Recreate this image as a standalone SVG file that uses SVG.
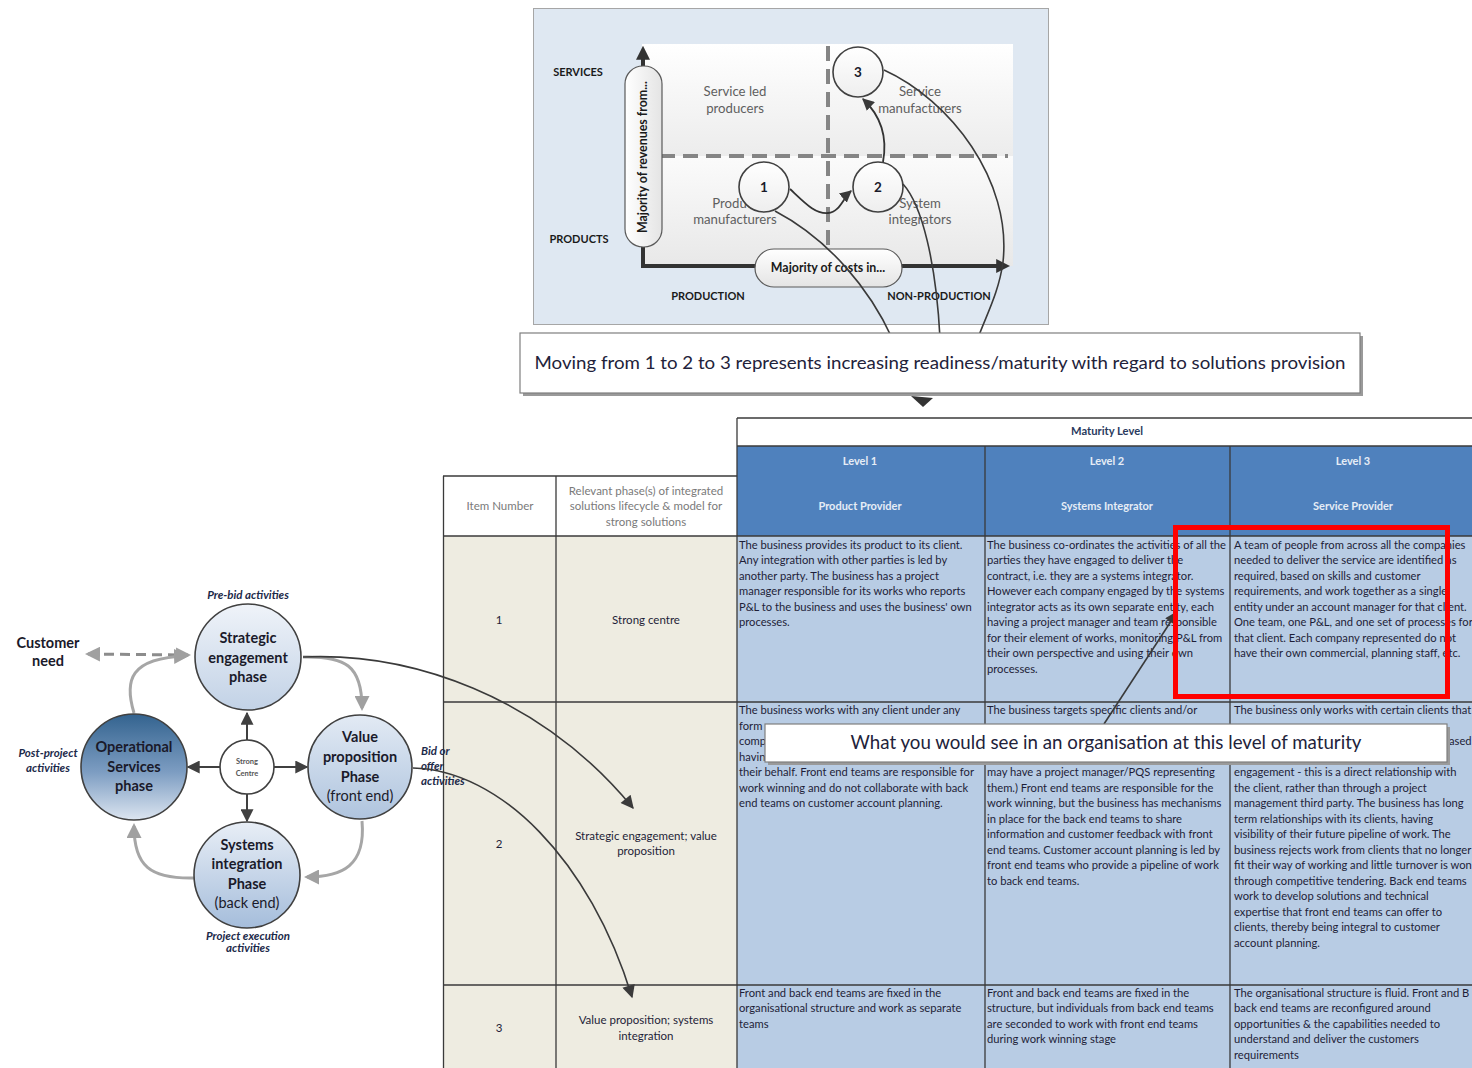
<svg xmlns="http://www.w3.org/2000/svg" width="1472" height="1068" viewBox="0 0 1472 1068">
<defs>
  <style>
    .lbl{font-family:Lato,"Liberation Sans",sans-serif;}
    .axisLbl{font-family:Lato,"Liberation Sans",sans-serif;font-size:11px;font-weight:bold;fill:#1a1a1a;text-anchor:middle;}
    .quad{font-family:Lato,"Liberation Sans",sans-serif;font-size:13.2px;fill:#5f5f5f;text-anchor:middle;}
    .num{font-family:Lato,"Liberation Sans",sans-serif;font-size:13.5px;font-weight:bold;fill:#1a1a2a;text-anchor:middle;}
    .pillTxt{font-family:Lato,"Liberation Sans",sans-serif;font-size:12.4px;font-weight:bold;fill:#1a1a1a;text-anchor:middle;}
    .phase{font-family:Lato,"Liberation Sans",sans-serif;font-size:14.5px;font-weight:bold;fill:#1a1a2a;text-anchor:middle;}
    .phaseN{font-family:Lato,"Liberation Sans",sans-serif;font-size:14.5px;fill:#1a1a2a;text-anchor:middle;}
    .note{font-family:Lato,"Liberation Sans",sans-serif;font-size:11.5px;font-weight:bold;font-style:italic;fill:#1c2a4a;}
    .cell{font-family:Lato,"Liberation Sans",sans-serif;font-size:11.2px;fill:#1e1e38;}
    .cellC{font-family:Lato,"Liberation Sans",sans-serif;font-size:11.5px;fill:#1e1e38;text-anchor:middle;}
    .hdrW{font-family:Lato,"Liberation Sans",sans-serif;font-size:11px;font-weight:bold;fill:#e6edf6;text-anchor:middle;}
    .hdrG{font-family:Lato,"Liberation Sans",sans-serif;font-size:11.5px;fill:#7a7a7a;text-anchor:middle;}
    .grid{stroke:#3a3a3a;stroke-width:1.3;fill:none;}
    .callTxt{font-family:Lato,"Liberation Sans",sans-serif;fill:#22223a;text-anchor:middle;}
    .bigLink{fill:none;stroke:#3a3a3a;stroke-width:1.6;}
    .cycLink{fill:none;stroke:#a6a6a6;stroke-width:3;}
    .cenLink{fill:none;stroke:#404040;stroke-width:2;}
  </style>
  <linearGradient id="plotTop" x1="0" y1="0" x2="0" y2="1">
    <stop offset="0" stop-color="#ffffff"/><stop offset="1" stop-color="#ececec"/>
  </linearGradient>
  <linearGradient id="plotBot" x1="0" y1="0" x2="0" y2="1">
    <stop offset="0" stop-color="#fbfbfb"/><stop offset="1" stop-color="#e8e8e8"/>
  </linearGradient>
  <linearGradient id="pillV" x1="0" y1="0" x2="1" y2="0">
    <stop offset="0" stop-color="#ffffff"/><stop offset="1" stop-color="#e4e4e4"/>
  </linearGradient>
  <linearGradient id="pillH" x1="0" y1="0" x2="0" y2="1">
    <stop offset="0" stop-color="#ffffff"/><stop offset="1" stop-color="#e4e4e4"/>
  </linearGradient>
  <linearGradient id="numFill" x1="0" y1="0" x2="0" y2="1">
    <stop offset="0" stop-color="#ffffff"/><stop offset="1" stop-color="#eeeeee"/>
  </linearGradient>
  <linearGradient id="gStrat" x1="0" y1="0" x2="0" y2="1">
    <stop offset="0" stop-color="#eff3f9"/><stop offset="1" stop-color="#c2d2e6"/>
  </linearGradient>
  <linearGradient id="gValue" x1="0" y1="0" x2="0" y2="1">
    <stop offset="0" stop-color="#e2eaf4"/><stop offset="1" stop-color="#afc4de"/>
  </linearGradient>
  <linearGradient id="gSys" x1="0" y1="0" x2="0" y2="1">
    <stop offset="0" stop-color="#e8eef6"/><stop offset="1" stop-color="#a5bddb"/>
  </linearGradient>
  <linearGradient id="gOps" x1="0" y1="0" x2="0" y2="1">
    <stop offset="0" stop-color="#33638f"/><stop offset="0.55" stop-color="#7d9dc2"/><stop offset="1" stop-color="#dce5f0"/>
  </linearGradient>
  <marker id="mAxis" viewBox="0 0 10 10" refX="7" refY="5" markerWidth="14" markerHeight="14" markerUnits="userSpaceOnUse" orient="auto-start-reverse">
    <path d="M0,0 L10,5 L0,10 z" fill="#333"/>
  </marker>
  <marker id="mDark" viewBox="0 0 10 10" refX="9" refY="5" markerWidth="12" markerHeight="12" markerUnits="userSpaceOnUse" orient="auto">
    <path d="M0,0 L10,5 L0,10 z" fill="#3a3a3a"/>
  </marker>
  <marker id="mBig" viewBox="0 0 10 10" refX="9" refY="5" markerWidth="15" markerHeight="13" markerUnits="userSpaceOnUse" orient="auto">
    <path d="M0,0 L10,5 L0,10 z" fill="#3a3a3a"/>
  </marker>
  <marker id="mGray" viewBox="0 0 10 10" refX="8" refY="5" markerWidth="15" markerHeight="15" markerUnits="userSpaceOnUse" orient="auto-start-reverse">
    <path d="M0,0 L10,5 L0,10 z" fill="#a0a0a0"/>
  </marker>
  <marker id="mCen" viewBox="0 0 10 10" refX="9" refY="5" markerWidth="13" markerHeight="13" markerUnits="userSpaceOnUse" orient="auto">
    <path d="M0,0 L10,5 L0,10 z" fill="#404040"/>
  </marker>
</defs>

<rect x="0" y="0" width="1472" height="1068" fill="#ffffff"/>

<!-- Positioning matrix: revenues vs costs -->
<g id="matrix">
  <rect x="533.5" y="8.5" width="515" height="316" fill="#dfe8f2" stroke="#a6a6a6" stroke-width="1"/>
  <rect x="642" y="44" width="371" height="112" fill="url(#plotTop)"/>
  <rect x="642" y="156" width="371" height="110" fill="url(#plotBot)"/>
  <line x1="660" y1="156" x2="1008" y2="156" stroke="#858585" stroke-width="4" stroke-dasharray="15 8"/>
  <line x1="828" y1="46" x2="828" y2="252" stroke="#858585" stroke-width="4" stroke-dasharray="15 8"/>
  <polyline points="643,50 643,266 1006,266" fill="none" stroke="#333" stroke-width="4" marker-start="url(#mAxis)" marker-end="url(#mAxis)"/>
  <text class="axisLbl" x="578" y="76">SERVICES</text>
  <text class="axisLbl" x="579" y="243">PRODUCTS</text>
  <text class="axisLbl" x="708" y="300">PRODUCTION</text>
  <text class="axisLbl" x="939" y="300">NON-PRODUCTION</text>
  <text class="quad" x="735" y="96">Service led</text>
  <text class="quad" x="735" y="113">producers</text>
  <text class="quad" x="920" y="96">Service</text>
  <text class="quad" x="920" y="113">manufacturers</text>
  <text class="quad" x="735" y="208">Product</text>
  <text class="quad" x="735" y="224">manufacturers</text>
  <text class="quad" x="920" y="208">System</text>
  <text class="quad" x="920" y="224">integrators</text>
  <g id="revenue-pill">
    <rect x="625" y="66" width="37" height="181" rx="18" fill="url(#pillV)" stroke="#5a5a5a" stroke-width="1.2"/>
    <text class="pillTxt" x="643" y="161" transform="rotate(-90 643 157)">Majority of revenues from...</text>
  </g>
  <g id="cost-pill">
    <rect x="755" y="249" width="147" height="38" rx="19" fill="url(#pillH)" stroke="#5a5a5a" stroke-width="1.2"/>
    <text class="pillTxt" x="828" y="272">Majority of costs in...</text>
  </g>
  <!-- stage links inside the matrix -->
  <path d="M790,189 C806,204 815,214 828,213 C840,212 843,198 851,191" fill="none" stroke="#333" stroke-width="1.8" marker-end="url(#mDark)"/>
  <path d="M883,162 C888,135 880,115 863,99" fill="none" stroke="#333" stroke-width="1.8" marker-end="url(#mDark)"/>
  <g id="stage-1">
    <circle cx="764" cy="187" r="25" fill="url(#numFill)" stroke="#404040" stroke-width="1.6"/>
    <text class="num" x="764" y="192">1</text>
  </g>
  <g id="stage-2">
    <circle cx="878" cy="187" r="25" fill="url(#numFill)" stroke="#404040" stroke-width="1.6"/>
    <text class="num" x="878" y="192">2</text>
  </g>
  <g id="stage-3">
    <circle cx="858" cy="72" r="25" fill="url(#numFill)" stroke="#404040" stroke-width="1.6"/>
    <text class="num" x="858" y="77">3</text>
  </g>
</g>

<!-- Maturity table -->
<g id="maturity-table">
  <rect x="737" y="418" width="735" height="28" fill="#ffffff"/>
  <rect x="737" y="446" width="735" height="90" fill="#4f81bd"/>
  <rect x="443" y="476" width="294" height="60" fill="#ffffff"/>
  <rect x="443" y="536" width="294" height="532" fill="#eeece1"/>
  <rect x="737" y="536" width="735" height="532" fill="#b8cce4"/>

  <line class="grid" x1="737" y1="418" x2="1472" y2="418" stroke-width="2"/>
  <line class="grid" x1="737" y1="446" x2="1472" y2="446" stroke-width="0.8"/>
  <line class="grid" x1="443" y1="476" x2="737" y2="476" stroke-width="2"/>
  <line class="grid" x1="443" y1="536" x2="1472" y2="536"/>
  <line class="grid" x1="443" y1="702" x2="1472" y2="702"/>
  <line class="grid" x1="443" y1="985" x2="1472" y2="985" stroke-width="2.6"/>
  <line class="grid" x1="443.5" y1="476" x2="443.5" y2="1068"/>
  <line class="grid" x1="556" y1="476" x2="556" y2="1068"/>
  <line class="grid" x1="737" y1="418" x2="737" y2="1068" stroke-width="2.2"/>
  <line class="grid" x1="985" y1="446" x2="985" y2="1068"/>
  <line class="grid" x1="1230" y1="446" x2="1230" y2="1068"/>

  <text x="1107" y="435" font-family="Lato, 'Liberation Sans', sans-serif" font-size="11.2" font-weight="bold" fill="#2a3a5e" text-anchor="middle">Maturity Level</text>
  <text class="hdrW" x="860" y="465">Level 1</text>
  <text class="hdrW" x="860" y="510">Product Provider</text>
  <text class="hdrW" x="1107" y="465">Level 2</text>
  <text class="hdrW" x="1107" y="510">Systems Integrator</text>
  <text class="hdrW" x="1353" y="465">Level 3</text>
  <text class="hdrW" x="1353" y="510">Service Provider</text>
  <text class="hdrG" x="500" y="510">Item Number</text>
  <text class="hdrG" x="646" y="495">Relevant phase(s) of integrated</text>
  <text class="hdrG" x="646" y="510">solutions lifecycle &amp; model for</text>
  <text class="hdrG" x="646" y="526">strong solutions</text>

  <text class="cellC" x="499" y="624">1</text>
  <text class="cellC" x="646" y="624">Strong centre</text>
  <text class="cellC" x="499" y="848">2</text>
  <text class="cellC" x="646" y="840">Strategic engagement; value</text>
  <text class="cellC" x="646" y="855">proposition</text>
  <text class="cellC" x="499" y="1032">3</text>
  <text class="cellC" x="646" y="1024">Value proposition; systems</text>
  <text class="cellC" x="646" y="1040">integration</text>

  <!-- row 1 -->
  <text class="cell" x="739" y="549">
    <tspan x="739" dy="0">The business provides its product to its client.</tspan>
    <tspan x="739" dy="15.45">Any integration with other parties is led by</tspan>
    <tspan x="739" dy="15.45">another party.  The business has a project</tspan>
    <tspan x="739" dy="15.45">manager responsible for its works who reports</tspan>
    <tspan x="739" dy="15.45">P&amp;L to the business and uses the business' own</tspan>
    <tspan x="739" dy="15.45">processes.</tspan>
  </text>
  <text class="cell" x="987" y="549">
    <tspan x="987" dy="0">The business co-ordinates the activities of all the</tspan>
    <tspan x="987" dy="15.45">parties they have engaged to deliver the</tspan>
    <tspan x="987" dy="15.45">contract, i.e. they are a systems integrator.</tspan>
    <tspan x="987" dy="15.45">However each company engaged by the systems</tspan>
    <tspan x="987" dy="15.45">integrator acts as its own separate entity, each</tspan>
    <tspan x="987" dy="15.45">having a project manager and team responsible</tspan>
    <tspan x="987" dy="15.45">for their element of works, monitoring P&amp;L from</tspan>
    <tspan x="987" dy="15.45">their own perspective and using their own</tspan>
    <tspan x="987" dy="15.45">processes.</tspan>
  </text>
  <text class="cell" x="1234" y="549">
    <tspan x="1234" dy="0">A team of people from across all the companies</tspan>
    <tspan x="1234" dy="15.45">needed to deliver the service are identified as</tspan>
    <tspan x="1234" dy="15.45">required, based on skills and customer</tspan>
    <tspan x="1234" dy="15.45">requirements, and work together as a single</tspan>
    <tspan x="1234" dy="15.45">entity under an account manager for that client.</tspan>
    <tspan x="1234" dy="15.45">One team, one P&amp;L, and one set of processes for</tspan>
    <tspan x="1234" dy="15.45">that client.  Each company represented do not</tspan>
    <tspan x="1234" dy="15.45">have their own commercial, planning staff, etc.</tspan>
  </text>

  <!-- row 2 -->
  <text class="cell" x="739" y="714">
    <tspan x="739" dy="0">The business works with any client under any</tspan>
    <tspan x="739" dy="15.5">form</tspan>
    <tspan x="739" dy="15.5">comp</tspan>
    <tspan x="739" dy="15.5">havin</tspan>
    <tspan x="739" dy="15.5">their behalf.  Front end teams are responsible for</tspan>
    <tspan x="739" dy="15.5">work winning and do not collaborate with back</tspan>
    <tspan x="739" dy="15.5">end teams on customer account planning.</tspan>
  </text>
  <text class="cell" x="987" y="714">
    <tspan x="987" dy="0">The business targets specific clients and/or</tspan>
    <tspan x="987" dy="62">may have a project manager/PQS representing</tspan>
    <tspan x="987" dy="15.5">them.)  Front end teams are responsible for the</tspan>
    <tspan x="987" dy="15.5">work winning, but the business has mechanisms</tspan>
    <tspan x="987" dy="15.5">in place for the back end teams to share</tspan>
    <tspan x="987" dy="15.5">information and customer feedback with front</tspan>
    <tspan x="987" dy="15.5">end teams.  Customer account planning is led by</tspan>
    <tspan x="987" dy="15.5">front end teams who provide a pipeline of work</tspan>
    <tspan x="987" dy="15.5">to back end teams.</tspan>
  </text>
  <text class="cell" x="1234" y="714">
    <tspan x="1234" dy="0">The business only works with certain clients that</tspan>
    <tspan x="1234" dy="62">engagement - this is a direct relationship with</tspan>
    <tspan x="1234" dy="15.5">the client, rather than through a project</tspan>
    <tspan x="1234" dy="15.5">management third party.  The business has long</tspan>
    <tspan x="1234" dy="15.5">term relationships with its clients, having</tspan>
    <tspan x="1234" dy="15.5">visibility of their future pipeline of work.  The</tspan>
    <tspan x="1234" dy="15.5">business rejects work from clients that no longer</tspan>
    <tspan x="1234" dy="15.5">fit their way of working and little turnover is won</tspan>
    <tspan x="1234" dy="15.5">through competitive tendering.  Back end teams</tspan>
    <tspan x="1234" dy="15.5">work to develop solutions and technical</tspan>
    <tspan x="1234" dy="15.5">expertise that front end teams can offer to</tspan>
    <tspan x="1234" dy="15.5">clients, thereby being integral to customer</tspan>
    <tspan x="1234" dy="15.5">account planning.</tspan>
  </text>
  <text class="cell" x="1449" y="745">ased</text>

  <!-- row 3 -->
  <text class="cell" x="739" y="997">
    <tspan x="739" dy="0">Front and back end teams are fixed in the</tspan>
    <tspan x="739" dy="15.4">organisational structure and work as separate</tspan>
    <tspan x="739" dy="15.4">teams</tspan>
  </text>
  <text class="cell" x="987" y="997">
    <tspan x="987" dy="0">Front and back end teams are fixed in the</tspan>
    <tspan x="987" dy="15.4">structure, but individuals from back end teams</tspan>
    <tspan x="987" dy="15.4">are seconded to work with front end teams</tspan>
    <tspan x="987" dy="15.4">during work winning stage</tspan>
  </text>
  <text class="cell" x="1234" y="997">
    <tspan x="1234" dy="0">The organisational structure is fluid.  Front and B</tspan>
    <tspan x="1234" dy="15.4">back end teams are reconfigured around</tspan>
    <tspan x="1234" dy="15.4">opportunities &amp; the capabilities needed to</tspan>
    <tspan x="1234" dy="15.4">understand and deliver the customers</tspan>
    <tspan x="1234" dy="15.4">requirements</tspan>
  </text>
</g>

<!-- Integrated solutions lifecycle -->
<g id="lifecycle-links">
  <line x1="88" y1="654" x2="188" y2="655" stroke="#8c8c8c" stroke-width="3" stroke-dasharray="10 6" marker-start="url(#mGray)" marker-end="url(#mGray)"/>
  <path class="cycLink" d="M134,713 C124,680 130,658 186,656" marker-end="url(#mGray)"/>
  <path class="cycLink" d="M303,657 C345,656 362,665 362,708" marker-end="url(#mGray)"/>
  <path class="cycLink" d="M362,821 C366,866 342,877 307,877" marker-end="url(#mGray)"/>
  <path class="cycLink" d="M194,878 C150,879 134,866 134,826" marker-end="url(#mGray)"/>
  <line class="cenLink" x1="247" y1="740" x2="247" y2="713" marker-end="url(#mCen)"/>
  <line class="cenLink" x1="247" y1="794" x2="247" y2="821" marker-end="url(#mCen)"/>
  <line class="cenLink" x1="220" y1="767" x2="188" y2="767" marker-end="url(#mCen)"/>
  <line class="cenLink" x1="274" y1="767" x2="307" y2="767" marker-end="url(#mCen)"/>
</g>

<g id="node-strategic">
  <circle cx="248" cy="657" r="53" fill="url(#gStrat)" stroke="#404040" stroke-width="1.6"/>
  <text class="phase" x="248" y="643">Strategic</text>
  <text class="phase" x="248" y="663">engagement</text>
  <text class="phase" x="248" y="682">phase</text>
</g>
<g id="node-value">
  <circle cx="360" cy="767" r="52" fill="url(#gValue)" stroke="#404040" stroke-width="1.6"/>
  <text class="phase" x="360" y="742">Value</text>
  <text class="phase" x="360" y="762">proposition</text>
  <text class="phase" x="360" y="782">Phase</text>
  <text class="phaseN" x="360" y="801">(front end)</text>
</g>
<g id="node-systems">
  <circle cx="247" cy="875" r="53" fill="url(#gSys)" stroke="#404040" stroke-width="1.6"/>
  <text class="phase" x="247" y="850">Systems</text>
  <text class="phase" x="247" y="869">integration</text>
  <text class="phase" x="247" y="889">Phase</text>
  <text class="phaseN" x="247" y="908">(back end)</text>
</g>
<g id="node-operational">
  <circle cx="134" cy="767" r="53" fill="url(#gOps)" stroke="#404040" stroke-width="1.6"/>
  <text class="phase" x="134" y="752">Operational</text>
  <text class="phase" x="134" y="772">Services</text>
  <text class="phase" x="134" y="791">phase</text>
</g>
<g id="node-centre">
  <circle cx="247" cy="767" r="27" fill="#ffffff" stroke="#404040" stroke-width="1.6"/>
  <text x="247" y="764" font-family="Lato, 'Liberation Sans', sans-serif" font-size="7.5" font-weight="bold" fill="#555" text-anchor="middle">Strong</text>
  <text x="247" y="776" font-family="Lato, 'Liberation Sans', sans-serif" font-size="7.5" font-weight="bold" fill="#555" text-anchor="middle">Centre</text>
</g>

<g id="lifecycle-notes">
  <text class="lbl" x="48" y="648" font-size="14.5" font-weight="bold" fill="#1a1a2a" text-anchor="middle">Customer</text>
  <text class="lbl" x="48" y="666" font-size="14.5" font-weight="bold" fill="#1a1a2a" text-anchor="middle">need</text>
  <text class="note" x="248" y="599" text-anchor="middle">Pre-bid activities</text>
  <text class="note" x="48" y="757" text-anchor="middle">Post-project</text>
  <text class="note" x="48" y="772" text-anchor="middle">activities</text>
  <text class="note" x="421" y="755">Bid or</text>
  <text class="note" x="421" y="770">offer</text>
  <text class="note" x="421" y="785">activities</text>
  <text class="note" x="248" y="940" text-anchor="middle">Project execution</text>
  <text class="note" x="248" y="952" text-anchor="middle">activities</text>
</g>

<!-- Connectors linking the diagrams -->
<g id="connectors">
  <path class="bigLink" d="M303,657 C410,652 540,695 633,808" marker-end="url(#mBig)"/>
  <path class="bigLink" d="M413,768 C500,770 590,860 632,997" marker-end="url(#mBig)"/>
  <path class="bigLink" d="M775,211 C830,240 870,290 892,338"/>
  <path class="bigLink" d="M903,184 C922,205 936,262 940,338"/>
  <path class="bigLink" d="M884,70 C950,100 1012,180 1003,262 C999,292 986,316 978,338"/>
  <path d="M911,396 L933,398 L923,407 z" fill="#333"/>
  <path class="bigLink" d="M1104,724 L1177,612" marker-end="url(#mBig)"/>
</g>

<!-- Callouts -->
<g id="callout-readiness">
  <rect x="523" y="336" width="840" height="60" fill="#9a9a9a"/>
  <rect x="520" y="333" width="840" height="60" fill="#ffffff" stroke="#7f7f7f" stroke-width="1.2"/>
  <text class="callTxt" x="940" y="369" font-size="18" textLength="811" lengthAdjust="spacingAndGlyphs">Moving from 1 to 2 to 3 represents increasing readiness/maturity with regard to solutions provision</text>
</g>
<g id="callout-organisation">
  <rect x="768" y="727" width="682" height="38" fill="#9a9a9a"/>
  <rect x="765" y="724" width="682" height="38" fill="#ffffff" stroke="#7f7f7f" stroke-width="1.2"/>
  <text class="callTxt" x="1106" y="749" font-size="19" textLength="511" lengthAdjust="spacingAndGlyphs">What you would see in an organisation at this level of maturity</text>
</g>
<rect id="highlight" x="1175.5" y="527.5" width="272" height="169" fill="none" stroke="#ff0000" stroke-width="5"/>
</svg>
